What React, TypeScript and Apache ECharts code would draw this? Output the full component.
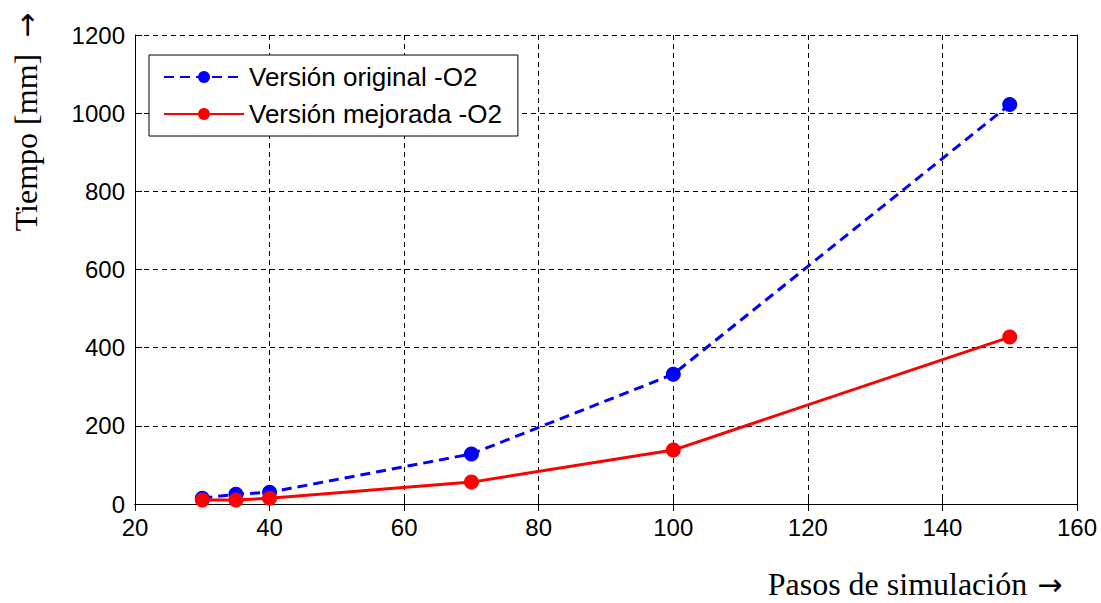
import React, { useEffect, useRef } from "react";
import * as echarts from "echarts";

const pasos = [30, 35, 40, 70, 100, 150];
const original = [15, 25, 30, 128, 332, 1022];
const mejorada = [10, 10, 15, 56, 138, 427];
const seriesNames = ["Versión original -O2", "Versión mejorada -O2"];
const xTitle = "Pasos de simulación";
const yTitle = "Tiempo [mm]";

export default function App() {
  const ref = useRef<HTMLDivElement>(null);
  useEffect(() => {
    if (!ref.current) return;
    const chart = echarts.init(ref.current, undefined, { renderer: "svg" });
    const tickFont = { fontFamily: "Liberation Sans", fontSize: 24, color: "#000" };
    const splitLine = { show: true, lineStyle: { color: "#000", width: 1, type: [5, 4] as any } };
    const axisLine = { show: true, lineStyle: { color: "#000", width: 1 } };
    const axisTick = { show: true, inside: true, length: 7, lineStyle: { color: "#000" } };
    const plain = (v: number) => String(v);
    const titleRich = {
      t: { fontFamily: "Liberation Serif", fontSize: 32, color: "#000" },
      a: { fontFamily: "DejaVu Sans", fontSize: 30, color: "#000", padding: [0, 0, 0, 10] },
      b: { fontFamily: "DejaVu Sans", fontSize: 30, color: "#000", padding: [0, 0, 0, 16] },
    };
    chart.setOption({
      animation: false,
      backgroundColor: "#fff",
      grid: { left: 135, right: 24, top: 35, bottom: 99, containLabel: false },
      xAxis: [
        {
          type: "value", min: 20, max: 160, interval: 20, position: "bottom",
          axisLine, axisTick, splitLine,
          axisLabel: { ...tickFont, margin: 11, formatter: plain },
        },
        {
          type: "value", min: 20, max: 160, interval: 20, position: "top",
          axisLine, axisTick, splitLine: { show: false }, axisLabel: { show: false },
        },
      ],
      yAxis: [
        {
          type: "value", min: 0, max: 1200, interval: 200, position: "left",
          axisLine, axisTick, splitLine,
          axisLabel: { ...tickFont, margin: 10, formatter: plain },
        },
        {
          type: "value", min: 0, max: 1200, interval: 200, position: "right",
          axisLine, axisTick, splitLine: { show: false }, axisLabel: { show: false },
        },
      ],
      legend: {
        left: 149, top: 55, orient: "vertical",
        backgroundColor: "#fff", borderColor: "#000", borderWidth: 1,
        padding: [9, 16, 9, 14], itemGap: 11, itemWidth: 80, itemHeight: 15,
        textStyle: { fontFamily: "Liberation Sans", fontSize: 26, color: "#000", lineHeight: 26 },
        data: seriesNames,
      },
      series: [
        {
          name: seriesNames[0], type: "line",
          data: pasos.map((p, i) => [p, original[i]]),
          symbol: "circle", symbolSize: 15,
          lineStyle: { color: "#0000ff", width: 3, type: [10, 6] as any },
          itemStyle: { color: "#0000ff" },
          z: 3,
        },
        {
          name: seriesNames[1], type: "line",
          data: pasos.map((p, i) => [p, mejorada[i]]),
          symbol: "circle", symbolSize: 15,
          lineStyle: { color: "#ff0000", width: 3, type: "solid" },
          itemStyle: { color: "#ff0000" },
          z: 4,
        },
      ],
      graphic: [
        {
          type: "text", x: 26, y: 122, rotation: Math.PI / 2,
          style: {
            text: `{t|${yTitle}}{b|→}`, rich: titleRich,
            textAlign: "center", textVerticalAlign: "middle",
          },
        },
        {
          type: "text", x: 915, y: 584,
          style: {
            text: `{t|${xTitle}}{a|→}`, rich: titleRich,
            textAlign: "center", textVerticalAlign: "middle",
          },
        },
      ],
    });
    return () => chart.dispose();
  }, []);
  return <div ref={ref} style={{ width: 1101, height: 603, position: "absolute", left: 0, top: 0 }} />;
}
